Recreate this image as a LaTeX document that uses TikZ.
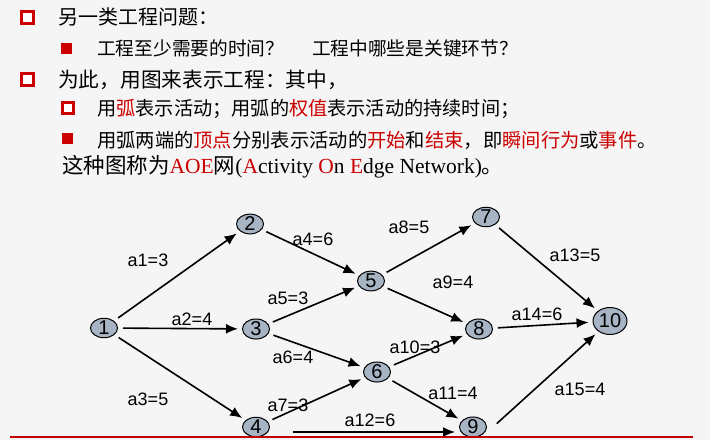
\documentclass[tikz,border=0pt]{standalone}
\usepackage{fontspec}
\setmainfont{Liberation Sans}
\newfontfamily\cjk{Noto Sans CJK SC}
\newfontfamily\tms{Liberation Serif}
\usetikzlibrary{arrows.meta}
\usetikzlibrary{shapes.geometric}
\definecolor{pred}  {RGB}{204,0,0}
\definecolor{lred}  {RGB}{192,0,0}
\definecolor{ngray} {RGB}{166,180,196}
\definecolor{sback} {RGB}{245,245,245}
\tikzset{
    event/.style={ellipse, draw=black, fill=ngray, line width=1pt,
              minimum width=27pt, minimum height=19pt, inner sep=0pt,
              font=\fontsize{20}{20}\selectfont},
    act/.style={draw=black, line width=1.6pt, -{Latex[length=12pt,width=10pt]},
              shorten <=5pt, shorten >=4pt},
    weight/.style={inner sep=0pt, font=\fontsize{18}{18}\selectfont},
    hollowbox/.style={draw=pred, line width=3pt, fill=white, minimum size=12pt, inner sep=0pt},
    fullbox/.style={fill=pred, minimum size=11pt, inner sep=0pt},
    txt/.style={anchor=west, inner sep=0pt}
  }
\begin{document}
\begin{tikzpicture}[x=1pt, y=-1pt]
 % page
     \useasboundingbox[fill=sback] (0,0) rectangle (710,440);
 %% text lines
     \node[hollowbox] (b1) at (27,17) {};
     \node[txt, font=\cjk\fontsize{20}{20}\selectfont] (t1) at (58,17) {另一类工程问题：};
     \node[fullbox] (b2) at (66,48) {};
     \node[txt, font=\cjk\fontsize{18.7}{19}\selectfont] (t2) at (97,48) {工程至少需要的时间？\hspace{28pt}工程中哪些是关键环节？};
     \node[hollowbox] (b3) at (27,79) {};
     \node[txt, font=\cjk\fontsize{20.7}{21}\selectfont] (t3) at (58,80) {为此，用图来表示工程：其中，};
     \node[hollowbox, minimum size=10.5pt] (b4) at (68,108) {};
     \node[txt, font=\cjk\fontsize{19.2}{19}\selectfont] (t4) at (97,109) {用\textcolor{pred}{弧}表示活动；用弧的\textcolor{pred}{权值}表示活动的持续时间；};
     \node[fullbox] (b5) at (67,138) {};
     \node[txt, font=\cjk\fontsize{19.3}{19}\selectfont] (t5) at (97,140) {用弧两端的\textcolor{pred}{顶点}分别表示活动的\textcolor{pred}{开始}和\textcolor{pred}{结束}，即\textcolor{pred}{瞬间行为}或\textcolor{pred}{事件}。};
     \node[txt, font=\fontsize{21.5}{22}\selectfont] (t6) at (62,167) {{\cjk 这种图称为}{\tms\color{pred}AOE}{\cjk 网}{\tms(\textcolor{pred}{A}ctivity \textcolor{pred}{O}n \textcolor{pred}{E}dge Network)}{\cjk 。}};
 %% events
     \node[event] (n1) at (104,328) {1};
     \node[event] (n2) at (250,224) {2};
     \node[event] (n3) at (256,329) {3};
     \node[event] (n4) at (256,427) {4};
     \node[event] (n5) at (371,281) {5};
     \node[event] (n6) at (377,372) {6};
     \node[event] (n7) at (486,217) {7};
     \node[event] (n8) at (479,329) {8};
     \node[event] (n9) at (473,427) {9};
     \node[event, minimum width=34pt, minimum height=27pt] (n10) at (610,321) {10};
 %% activities
     \draw[act] (n1) -- (n2);
     \draw[act] (n1) -- (n3);
     \draw[act] (n1) -- (n4);
     \draw[act] (n2) -- (n5);
     \draw[act] (n3) -- (n5);
     \draw[act] (n3) -- (n6);
     \draw[act] (n4) -- (n6);
     \draw[act] (n5) -- (n7);
     \draw[act] (n5) -- (n8);
     \draw[act] (n6) -- (n8);
     \draw[act] (n6) -- (n9);
     \draw[act] ([xshift=18pt,yshift=-5pt]n4.east) -- ([yshift=-5pt]n9.west);
     \draw[act] (n7) -- (n10);
     \draw[act] (n8) -- (n10);
     \draw[act] ([xshift=6pt]n9.east) -- (n10);
 %% weights
     \node[weight] (w1) at (148,260) {a1=3};
     \node[weight] (w2) at (192,319) {a2=4};
     \node[weight] (w3) at (148,399) {a3=5};
     \node[weight] (w4) at (313,239) {a4=6};
     \node[weight] (w5) at (288,298) {a5=3};
     \node[weight] (w6) at (293,357) {a6=4};
     \node[weight] (w7) at (288,405) {a7=3};
     \node[weight] (w8) at (409,227) {a8=5};
     \node[weight] (w9) at (453,282) {a9=4};
     \node[weight] (w10) at (415,347) {a10=3};
     \node[weight] (w11) at (453,393) {a11=4};
     \node[weight] (w12) at (370,420) {a12=6};
     \node[weight] (w13) at (575,255) {a13=5};
     \node[weight] (w14) at (537,314) {a14=6};
     \node[weight] (w15) at (580,389) {a15=4};
 % bottom rule
     \draw[lred, line width=1.5pt] (10,437) -- (693,437);
\end{tikzpicture}
\end{document}
